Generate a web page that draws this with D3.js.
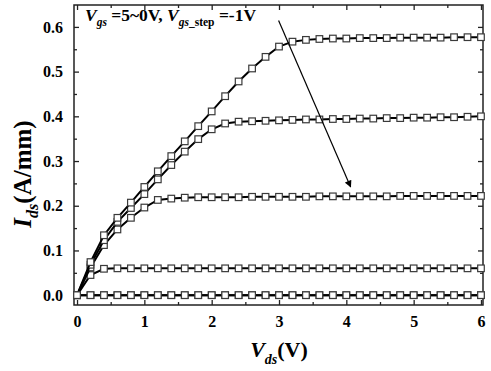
<!DOCTYPE html>
<html lang="en">
<head>
<meta charset="utf-8">
<title>Ids-Vds output curves</title>
<script src="https://d3js.org/d3.v7.min.js"></script>
<style>
  body, html { margin: 0; background: #fff; }
  svg { display: block; font-family: "Liberation Serif", "Times New Roman", serif; font-weight: bold; }
</style>
</head>
<body>
<svg width="491" height="371"></svg>
<script>
// drain voltage sweep (V)
var vds = [0, 0.2, 0.4, 0.6, 0.8, 1.0, 1.2, 1.4, 1.6, 1.8, 2.0, 2.2, 2.4, 2.6, 2.8, 3.0,
           3.2, 3.4, 3.6, 3.8, 4.0, 4.2, 4.4, 4.6, 4.8, 5.0, 5.2, 5.4, 5.6, 5.8, 6.0];
// drain current (A/mm) for each gate voltage
var ids5 = [0, 0.074, 0.134, 0.173, 0.207, 0.242, 0.277, 0.311, 0.344, 0.378, 0.411, 0.445, 0.478, 0.507, 0.533, 0.556,
            0.567, 0.571, 0.573, 0.574, 0.574, 0.575, 0.575, 0.575, 0.576, 0.576, 0.576, 0.576, 0.577, 0.577, 0.577];
var ids4 = [0, 0.068, 0.123, 0.164, 0.195, 0.226, 0.259, 0.291, 0.321, 0.349, 0.371, 0.384, 0.388, 0.389, 0.390, 0.391,
            0.392, 0.393, 0.393, 0.394, 0.394, 0.395, 0.395, 0.396, 0.396, 0.397, 0.397, 0.398, 0.398, 0.399, 0.400];
var ids3 = [0, 0.062, 0.112, 0.147, 0.173, 0.196, 0.213, 0.216, 0.218, 0.219, 0.219, 0.219, 0.219, 0.220, 0.220, 0.220,
            0.220, 0.220, 0.221, 0.221, 0.221, 0.221, 0.221, 0.221, 0.222, 0.222, 0.222, 0.222, 0.222, 0.222, 0.222];
var ids2 = [0, 0.045, 0.059, 0.060, 0.060, 0.060, 0.060, 0.060, 0.060, 0.060, 0.060, 0.060, 0.060, 0.060, 0.060, 0.060,
            0.060, 0.060, 0.060, 0.060, 0.060, 0.060, 0.060, 0.060, 0.060, 0.060, 0.060, 0.060, 0.060, 0.060, 0.060];
var ids1 = [0, 0, 0, 0, 0, 0, 0, 0, 0, 0, 0, 0, 0, 0, 0, 0, 0, 0, 0, 0, 0, 0, 0, 0, 0, 0, 0, 0, 0, 0, 0];
var ids0 = [0, 0, 0, 0, 0, 0, 0, 0, 0, 0, 0, 0, 0, 0, 0, 0, 0, 0, 0, 0, 0, 0, 0, 0, 0, 0, 0, 0, 0, 0, 0];
var curves = [ids0, ids1, ids2, ids3, ids4, ids5];

var xTicks = [0, 1, 2, 3, 4, 5, 6];
var xMinor = [0.5, 1.5, 2.5, 3.5, 4.5, 5.5];
var yTicks = [0.0, 0.1, 0.2, 0.3, 0.4, 0.5, 0.6];
var yMinor = [0.05, 0.15, 0.25, 0.35, 0.45, 0.55];
// arrow annotation (data coords): from high Vgs to low Vgs
var arrowFrom = [2.994, 0.6145];
var arrowTo = [4.064, 0.242];

var svg = d3.select("svg");
var pLeft = 74, pRight = 483, pTop = 5, pBottom = 305;

var x = d3.scaleLinear().domain([-0.045, 6.03]).range([pLeft, pRight]);
var y = d3.scaleLinear().domain([-0.022, 0.649]).range([pBottom, pTop]);

//frame
svg.append("rect")
  .attr("x", pLeft).attr("y", pTop)
  .attr("width", pRight - pLeft).attr("height", pBottom - pTop)
  .attr("fill", "none").attr("stroke", "#222").attr("stroke-width", 1.5);

//axes with inward ticks
function axisStyle(g) {
  g.select(".domain").remove();
  g.selectAll(".tick line").attr("stroke", "#222").attr("stroke-width", 1.3);
  g.selectAll("text").attr("font-size", 16).attr("font-weight", "bold").attr("fill", "#000")
    .attr("font-family", '"Liberation Serif", serif');
}
svg.append("g").attr("transform", "translate(0," + pBottom + ")")
  .call(d3.axisBottom(x).tickValues(xTicks).tickSizeInner(-5).tickSizeOuter(0).tickPadding(11).tickFormat(d3.format("d")))
  .call(axisStyle);
svg.append("g").attr("transform", "translate(0," + pBottom + ")")
  .call(d3.axisBottom(x).tickValues(xMinor).tickSize(-3).tickFormat(""))
  .call(axisStyle);
svg.append("g").attr("transform", "translate(0," + pTop + ")")
  .call(d3.axisTop(x).tickValues(xTicks).tickSize(-5).tickFormat(""))
  .call(axisStyle);
svg.append("g").attr("transform", "translate(0," + pTop + ")")
  .call(d3.axisTop(x).tickValues(xMinor).tickSize(-3).tickFormat(""))
  .call(axisStyle);
svg.append("g").attr("transform", "translate(" + pLeft + ",0)")
  .call(d3.axisLeft(y).tickValues(yTicks).tickSizeInner(-5).tickSizeOuter(0).tickPadding(11).tickFormat(d3.format(".1f")))
  .call(axisStyle);
svg.append("g").attr("transform", "translate(" + pLeft + ",0)")
  .call(d3.axisLeft(y).tickValues(yMinor).tickSize(-3).tickFormat(""))
  .call(axisStyle);
svg.append("g").attr("transform", "translate(" + pRight + ",0)")
  .call(d3.axisRight(y).tickValues(yTicks).tickSize(-5).tickFormat(""))
  .call(axisStyle);
svg.append("g").attr("transform", "translate(" + pRight + ",0)")
  .call(d3.axisRight(y).tickValues(yMinor).tickSize(-3).tickFormat(""))
  .call(axisStyle);

//curves
var line = d3.line()
  .x(function(d, i) { return x(vds[i]); })
  .y(function(d) { return y(d); });

var series = svg.append("g").selectAll("g")
  .data(curves)
  .enter().append("g");

series.append("path")
  .attr("d", line)
  .attr("fill", "none")
  .attr("stroke", "#000")
  .attr("stroke-width", 2);

series.selectAll("rect")
  .data(function(d) { return d; })
  .enter().append("rect")
  .attr("x", function(d, i) { return x(vds[i]) - 3.3; })
  .attr("y", function(d) { return y(d) - 3.3; })
  .attr("width", 6.6).attr("height", 6.6)
  .attr("fill", "#fff")
  .attr("stroke", "#3a3a3a")
  .attr("stroke-width", 1.2);

//arrow
svg.append("defs").append("marker")
  .attr("id", "head")
  .attr("viewBox", "0 0 10 10")
  .attr("refX", 9).attr("refY", 5)
  .attr("markerWidth", 8).attr("markerHeight", 7)
  .attr("markerUnits", "userSpaceOnUse")
  .attr("orient", "auto")
  .append("path").attr("d", "M0,0 L10,5 L0,10 Z").attr("fill", "#000");

svg.append("line")
  .attr("x1", x(arrowFrom[0])).attr("y1", y(arrowFrom[1]))
  .attr("x2", x(arrowTo[0])).attr("y2", y(arrowTo[1]))
  .attr("stroke", "#000").attr("stroke-width", 1.2)
  .attr("marker-end", "url(#head)");

//annotation text
var note = svg.append("text").attr("x", 85).attr("y", 21).attr("font-size", 17.5);
note.append("tspan").attr("font-style", "italic").text("V");
note.append("tspan").attr("font-style", "italic").attr("font-size", 11.5).attr("dy", 5).text("gs");
note.append("tspan").attr("dy", -5).text(" =5~0V, ");
note.append("tspan").attr("font-style", "italic").text("V");
note.append("tspan").attr("font-style", "italic").attr("font-size", 11.5).attr("dy", 5).text("gs");
note.append("tspan").attr("font-size", 11.5).text("_step");
note.append("tspan").attr("dy", -5).text(" =-1V");

//axis titles
var xl = svg.append("text").attr("x", 279).attr("y", 357).attr("text-anchor", "middle").attr("font-size", 22);
xl.append("tspan").attr("font-style", "italic").text("V");
xl.append("tspan").attr("font-style", "italic").attr("font-size", 14).attr("dy", 7).text("ds");
xl.append("tspan").attr("dy", -7).text("(V)");

var yl = svg.append("text").attr("transform", "translate(31,174) rotate(-90)")
  .attr("text-anchor", "middle").attr("font-size", 25);
yl.append("tspan").attr("font-style", "italic").text("I");
yl.append("tspan").attr("font-style", "italic").attr("font-size", 16).attr("dy", 7).text("ds");
yl.append("tspan").attr("dy", -7).text("(A/mm)");
</script>
</body>
</html>
